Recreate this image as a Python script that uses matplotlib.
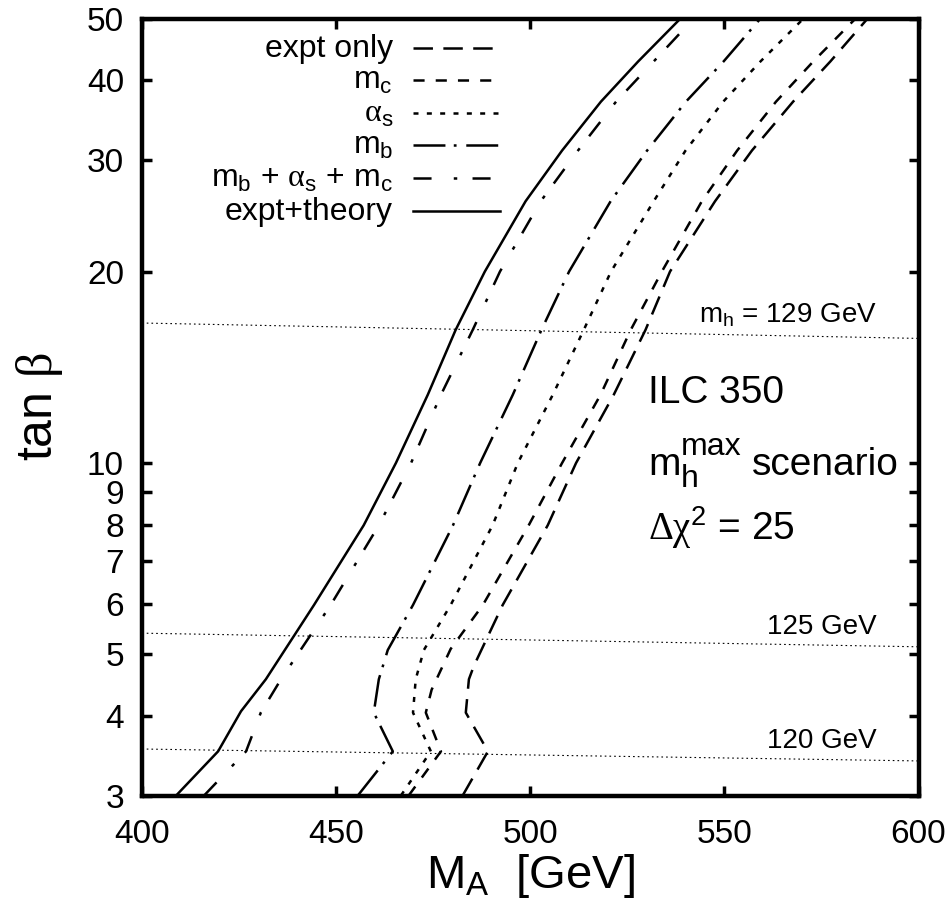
import numpy as np
import matplotlib
matplotlib.use('Agg')
import matplotlib.pyplot as plt
from matplotlib.ticker import FixedLocator, FixedFormatter, NullLocator

plt.rcParams['font.family'] = ['Liberation Sans', 'DejaVu Sans']
plt.rcParams['mathtext.fontset'] = 'custom'
plt.rcParams['mathtext.rm'] = 'Liberation Sans'
plt.rcParams['mathtext.it'] = 'Liberation Sans'
plt.rcParams['mathtext.sf'] = 'Liberation Serif'
plt.rcParams['lines.scale_dashes'] = False

# contours, M_A [GeV] vs tan beta
theory_ma = [408.8, 419.6, 425.5, 431.9, 444.3, 457.1, 465.4, 473.6, 480.8, 488.3, 498.8, 508.2, 518.2, 527.8, 538.7]
theory_tb = [3.0, 3.52, 4.07, 4.57, 5.98, 7.98, 10.0, 12.8, 16.2, 20.0, 25.8, 31.0, 37.0, 42.8, 50.0]

comb_ma = [416.0, 426.8, 430.6, 435.8, 448.6, 461.0, 469.3, 477.0, 485.2, 492.2, 502.7, 512.3, 522.1, 531.8, 542.1]
comb_tb = [3.0, 3.52, 4.05, 4.57, 5.98, 7.98, 10.0, 12.8, 16.2, 20.0, 25.8, 31.0, 37.0, 42.8, 50.0]

mb_ma = [455.6, 464.6, 459.7, 461.0, 463.3, 469.8, 480.1, 487.1, 495.5, 502.9, 510.0, 520.7, 530.1, 540.1, 549.8, 559.3]
mb_tb = [3.0, 3.52, 4.05, 4.57, 5.08, 5.98, 7.98, 10.0, 12.8, 16.2, 20.0, 25.8, 31.0, 37.0, 42.8, 50.0]

as_ma = [466.7, 474.4, 469.8, 470.5, 472.6, 479.5, 490.3, 496.8, 505.8, 513.8, 520.8, 531.8, 540.0, 549.7, 559.3, 570.4]
as_tb = [3.0, 3.52, 4.05, 4.57, 5.08, 5.98, 7.98, 10.0, 12.8, 16.2, 20.0, 25.8, 31.0, 37.0, 42.8, 50.0]

mc_ma = [468.7, 477.0, 473.1, 474.6, 479.5, 487.8, 499.6, 508.2, 518.1, 525.9, 533.9, 544.2, 553.3, 563.3, 572.9, 583.8]
mc_tb = [3.0, 3.52, 4.05, 4.4, 5.1, 5.98, 7.98, 10.0, 12.8, 16.2, 20.0, 25.8, 31.0, 37.0, 42.8, 50.0]

expt_ma = [482.6, 489.1, 483.4, 484.2, 485.5, 492.9, 504.5, 511.8, 521.5, 529.7, 536.0, 547.6, 557.1, 567.7, 577.3, 586.9]
expt_tb = [3.0, 3.52, 4.05, 4.57, 4.8, 5.98, 7.98, 10.0, 12.8, 16.2, 20.0, 25.8, 31.0, 37.0, 42.8, 50.0]

# m_h contour lines (tan beta at M_A = 400 and 600)
mh_text = [r'$\mathrm{m}_\mathrm{h}$ = 129 GeV', '125 GeV', '120 GeV']
mh_left = [16.6, 5.40, 3.55]
mh_right = [15.7, 5.14, 3.40]
mh_label_tb = [16.66, 5.38, 3.56]

yticks = [3, 4, 5, 6, 7, 8, 9, 10, 20, 30, 40, 50]
xticks = [400, 450, 500, 550, 600]

fig = plt.figure(figsize=(9.51, 9.02), dpi=100)
ax = fig.add_axes([142 / 951, 1 - 795.5 / 902, 776.5 / 951, 777 / 902])

curves = [
    ('expt only', expt_ma, expt_tb, (0, (14, 7.5))),
    (r'$\mathrm{m}_\mathrm{c}$', mc_ma, mc_tb, (0, (8, 8))),
    (r'$\mathsf{\alpha}_\mathrm{s}$', as_ma, as_tb, (0, (3.6, 6))),
    (r'$\mathrm{m}_\mathrm{b}$', mb_ma, mb_tb, (0, (23, 6, 2, 7))),
    (r'$\mathrm{m}_\mathrm{b}$ + $\mathsf{\alpha}_\mathrm{s}$ + $\mathrm{m}_\mathrm{c}$', comb_ma, comb_tb, (0, (13, 16, 2.5, 11))),
    ('expt+theory', theory_ma, theory_tb, '-'),
]

leg_rows = [0.962, 0.921, 0.878, 0.837, 0.795, 0.752]
for (lab, xs, ys, ls), yr in zip(curves, leg_rows):
    ax.plot(xs, ys, color='black', lw=1.8, linestyle=ls, dash_capstyle='butt')
    ax.plot([0.349, 0.461], [yr, yr], transform=ax.transAxes, color='black',
            lw=1.8, linestyle=ls, dash_capstyle='butt')
    ax.text(0.3232, yr - 0.0116, lab, transform=ax.transAxes, ha='right',
            va='baseline', fontsize=23)

for lab, yl, yr_, yt in zip(mh_text, mh_left, mh_right, mh_label_tb):
    ax.plot([400, 600], [yl, yr_], color='black', lw=0.8, linestyle=(0, (1.2, 2.2)))
    ax.text(589.3, yt, lab, ha='right', va='baseline', fontsize=20)

ax.text(530.3, 12.42, 'ILC 350', fontsize=28, va='baseline')
# m_h^max scenario, built from pieces so the super/subscripts match in size
anchor = (530.3, 9.57)
ax.annotate('m', anchor, fontsize=28, va='baseline')
ax.annotate('max', anchor, xytext=(23.5, 14.4), textcoords='offset points', fontsize=23, va='baseline')
ax.annotate('h', anchor, xytext=(23.5, -8.6), textcoords='offset points', fontsize=23, va='baseline')
ax.annotate('scenario', anchor, xytext=(74.6, 0), textcoords='offset points', fontsize=28, va='baseline')
ax.text(530.3, 7.56, r'$\mathsf{\Delta\chi}^\mathrm{2}$ = 25', fontsize=28, va='baseline')

ax.set_yscale('log')
ax.set_xlim(400, 600)
ax.set_ylim(3, 50)
ax.yaxis.set_major_locator(FixedLocator(yticks))
ax.yaxis.set_major_formatter(FixedFormatter([str(t) for t in yticks]))
ax.yaxis.set_minor_locator(NullLocator())
ax.xaxis.set_major_locator(FixedLocator(xticks))

ax.tick_params(which='both', direction='in', length=7, width=2.5, top=True, right=True,
               labelsize=24)
ax.tick_params(axis='y', pad=13)
ax.tick_params(axis='x', pad=17)
for s in ax.spines.values():
    s.set_linewidth(3.2)

ax.set_xlabel(r'$\mathrm{M}_\mathrm{A}$  [GeV]', fontsize=34, labelpad=1)
ax.set_ylabel(r'tan $\mathsf{\beta}$', fontsize=36, labelpad=16)

fig.savefig('out.png', dpi=100)
